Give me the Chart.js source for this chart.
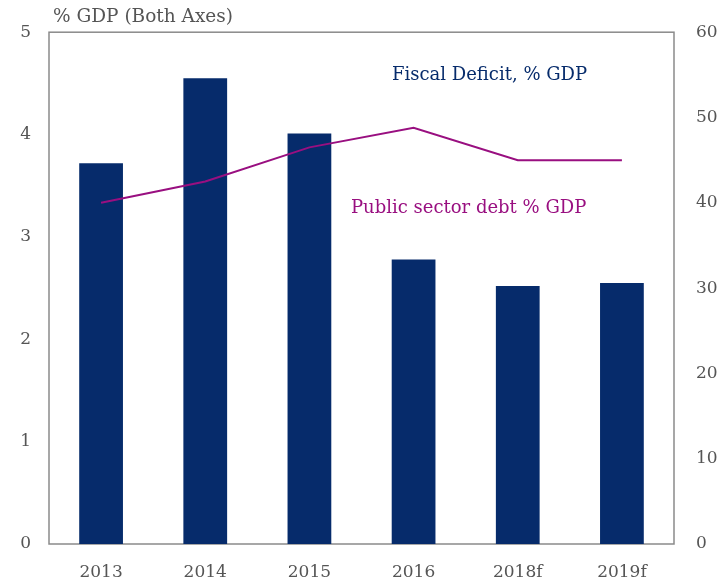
<!DOCTYPE html>
<html>
<head>
<meta charset="utf-8">
<script src="https://cdn.jsdelivr.net/npm/chart.js@4"></script>
<style>
  html, body { margin: 0; padding: 0; background: #fff; }
  #wrap { width: 728px; height: 585px; }
</style>
</head>
<body>
<div id="wrap"><canvas id="fiscalChart" width="728" height="585"></canvas></div>
<script>
// Fiscal deficit (bars, left axis) and public sector debt (line, right axis)
const years = ['2013', '2014', '2015', '2016', '2018f', '2019f'];
const fiscalDeficit = [3.72, 4.55, 4.01, 2.78, 2.52, 2.55];
const publicDebt = [40.0, 42.5, 46.5, 48.8, 45.0, 45.0];
const leftTicks = [0, 1, 2, 3, 4, 5];
const rightTicks = [0, 10, 20, 30, 40, 50, 60];

const NAVY = '#062b6b';
const PURPLE = '#990f80';
const AXIS = '#8a8a8a';
const LABEL = '#555555';
const FONT = 'DejaVu Serif';

// border box + free-floating texts
const decorations = {
    id: 'decorations',
    beforeDatasetsDraw(chart) {
        const { ctx, chartArea: a } = chart;
        ctx.save();
        ctx.strokeStyle = AXIS;
        ctx.lineWidth = 1.5;
        ctx.strokeRect(a.left, a.top, a.right - a.left, a.bottom - a.top);
        ctx.restore();
    },
    afterDraw(chart) {
        const { ctx, chartArea: a } = chart;
        ctx.save();
        ctx.textBaseline = 'middle';
        ctx.textAlign = 'left';
        ctx.font = '18.5px "' + FONT + '"';
        ctx.fillStyle = LABEL;
        ctx.fillText('% GDP (Both Axes)', a.left + 4, 17);
        ctx.font = '18px "' + FONT + '"';
        ctx.fillStyle = NAVY;
        ctx.fillText('Fiscal Deficit, % GDP', a.left + 343, a.top + 43);
        ctx.fillStyle = PURPLE;
        ctx.fillText('Public sector debt % GDP', a.left + 302, a.top + 176);
        ctx.restore();
    }
};

new Chart(document.getElementById('fiscalChart'), {
    data: {
        labels: years,
        datasets: [{
            type: 'line',
            label: 'Public sector debt % GDP',
            data: publicDebt,
            yAxisID: 'yRight',
            borderColor: PURPLE,
            borderWidth: 2,
            pointRadius: 0,
            tension: 0,
            order: 0
        }, {
            type: 'bar',
            label: 'Fiscal Deficit, % GDP',
            data: fiscalDeficit,
            yAxisID: 'yLeft',
            backgroundColor: NAVY,
            barPercentage: 0.42,
            categoryPercentage: 1,
            order: 1
        }]
    },
    options: {
        responsive: false,
        animation: false,
        layout: { padding: { top: 32, left: 0, right: 0, bottom: 0 } },
        plugins: {
            legend: { display: false },
            tooltip: { enabled: false }
        },
        scales: {
            x: {
                grid: { display: false, drawTicks: false },
                border: { display: false },
                ticks: {
                    color: LABEL,
                    padding: 18,
                    font: { family: FONT, size: 17 }
                },
                afterFit(scale) { scale.height = 41; }
            },
            yLeft: {
                position: 'left',
                min: 0,
                max: 5,
                afterBuildTicks(scale) { scale.ticks = leftTicks.map(v => ({ value: v })); },
                grid: { display: false, drawTicks: false },
                border: { display: false },
                ticks: {
                    color: LABEL,
                    padding: 18,
                    font: { family: FONT, size: 17 }
                },
                afterFit(scale) { scale.width = 49; }
            },
            yRight: {
                position: 'right',
                min: 0,
                max: 60,
                afterBuildTicks(scale) { scale.ticks = rightTicks.map(v => ({ value: v })); },
                grid: { display: false, drawTicks: false },
                border: { display: false },
                ticks: {
                    color: LABEL,
                    padding: 22,
                    font: { family: FONT, size: 17 }
                },
                afterFit(scale) { scale.width = 54; }
            }
        }
    },
    plugins: [decorations]
});
</script>
</body>
</html>
